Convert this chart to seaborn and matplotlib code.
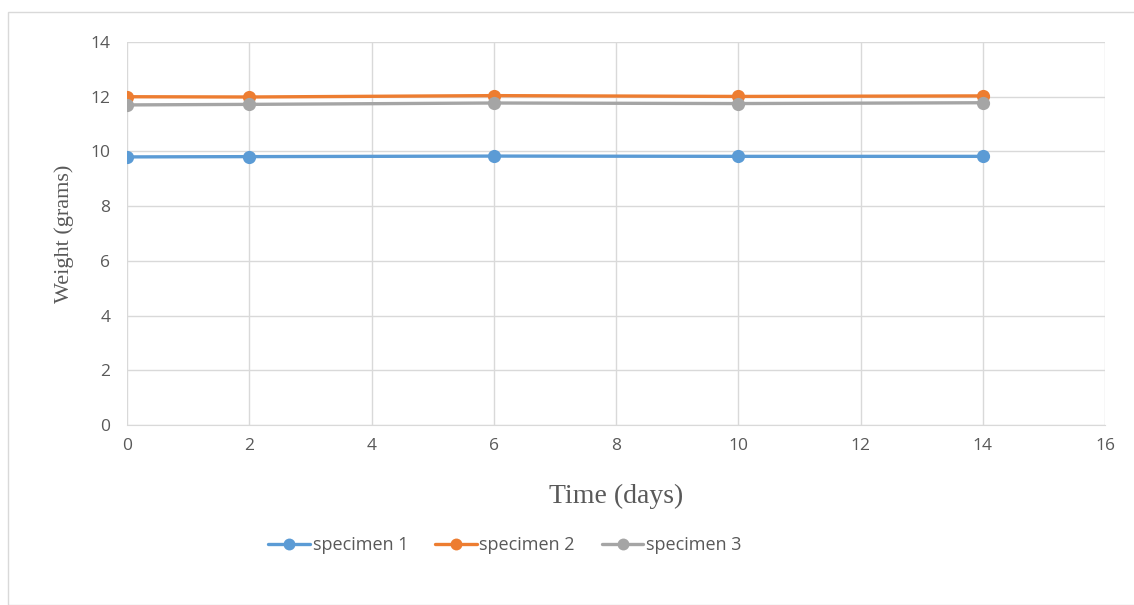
import pandas as pd
import matplotlib.pyplot as plt
import seaborn as sns
from matplotlib.patches import Rectangle

# Données
days = [0, 2, 6, 10, 14]
specimen_1 = [9.80, 9.81, 9.83, 9.82, 9.82]
specimen_2 = [12.00, 11.99, 12.04, 12.01, 12.03]
specimen_3 = [11.70, 11.72, 11.77, 11.75, 11.78]
labels = ["specimen 1", "specimen 2", "specimen 3"]
colors = ["#5B9BD5", "#ED7D31", "#A5A5A5"]

df = pd.DataFrame({
    "day": days * 3,
    "weight": specimen_1 + specimen_2 + specimen_3,
    "specimen": [labels[0]] * 5 + [labels[1]] * 5 + [labels[2]] * 5,
})

sns.set_style("white")
plt.rcParams["font.family"] = ["Open Sans", "DejaVu Sans"]

fig = plt.figure(figsize=(11.34, 6.05), dpi=100)
ax = fig.add_axes([127 / 1134, 1 - 425 / 605, (1105 - 127) / 1134, (425 - 42) / 605])

sns.lineplot(data=df, x="day", y="weight", hue="specimen", palette=colors,
             marker="o", markersize=9.5, markeredgewidth=0, linewidth=2.4, ax=ax)

ax.set_xlim(0, 16)
ax.set_ylim(0, 14)
ax.set_xticks(range(0, 17, 2))
ax.set_yticks(range(0, 15, 2))
ax.grid(True, color="#D9D9D9", linewidth=1)
ax.set_axisbelow(True)
for s in ["top", "right", "left"]:
    ax.spines[s].set_visible(False)
ax.spines["bottom"].set_color("#D9D9D9")
ax.tick_params(axis="both", length=0, labelsize=12.5, labelcolor="#595959")
ax.tick_params(axis="x", pad=9)
ax.tick_params(axis="y", pad=12)

ax.set_xlabel("Time (days)", family="Liberation Serif", fontsize=20, color="#595959", labelpad=22)
ax.set_ylabel("Weight (grams)", family="Liberation Serif", fontsize=16, color="#595959", labelpad=12)

handles, lbls = ax.get_legend_handles_labels()
ax.get_legend().remove()
fig.legend(handles, lbls, loc="center", bbox_to_anchor=(505 / 1134, 1 - 545 / 605), ncol=3,
           frameon=False, fontsize=13, labelcolor="#595959", handlelength=2.3,
           handletextpad=0.15, columnspacing=1.5, markerscale=0.9)

# cadre du graphique
fig.patches.append(Rectangle((8 / 1134, 0), 1.2, 1 - 12 / 605, transform=fig.transFigure,
                             fill=False, edgecolor="#D9D9D9", linewidth=1))

fig.savefig("out.png", dpi=100)
